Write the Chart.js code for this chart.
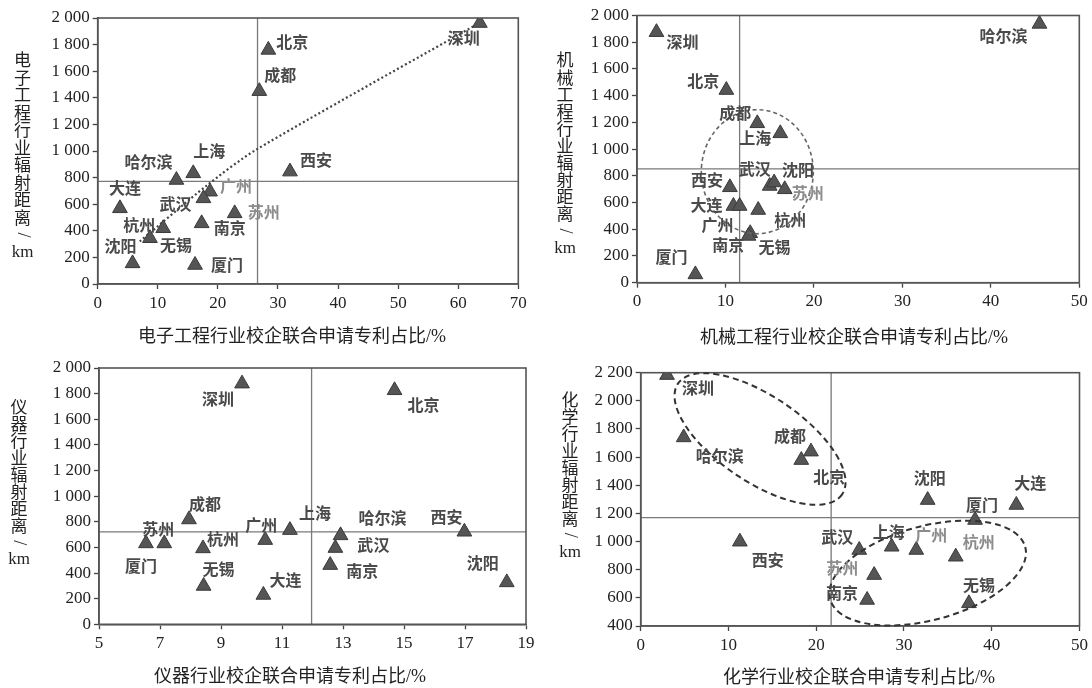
<!DOCTYPE html>
<html>
<head>
<meta charset="utf-8">
<script src="https://cdn.jsdelivr.net/npm/chart.js@4.4.1/dist/chart.umd.min.js"></script>
<style>
    html, body { margin: 0; padding: 0; background: #fff; }
    body { width: 1092px; height: 688px; position: relative; overflow: hidden; }
    canvas { position: absolute; }
</style>
</head>
<body>
<canvas id="chartEE" width="546" height="350" style="left:0;top:0"></canvas>
<canvas id="chartME" width="546" height="350" style="left:546px;top:0"></canvas>
<canvas id="chartIN" width="546" height="338" style="left:0;top:350px"></canvas>
<canvas id="chartCH" width="546" height="338" style="left:546px;top:350px"></canvas>
<script>
// 电子工程
const eeCities = ['深圳', '北京', '成都', '西安', '上海', '哈尔滨', '广州', '武汉', '大连', '苏州', '南京', '杭州', '无锡', '沈阳', '厦门'];
const eeShare = [63.6, 28.4, 26.9, 32.0, 15.9, 13.1, 18.7, 17.6, 3.7, 22.8, 17.3, 10.9, 8.7, 5.8, 16.2];
const eeDist = [1962, 1760, 1450, 845, 832, 782, 694, 644, 569, 531, 456, 419, 344, 155, 143];
const eeTrendX = [7, 18, 26.2, 64];
const eeTrendY = [320, 735, 1005, 1975];
const eeMean = [26.6, 772];

// 机械工程
const meCities = ['哈尔滨', '深圳', '北京', '成都', '上海', '武汉', '沈阳', '苏州', '西安', '大连', '广州', '杭州', '南京', '无锡', '厦门'];
const meShare = [45.5, 2.2, 10.1, 13.6, 16.2, 15.0, 15.5, 16.7, 10.5, 10.9, 11.6, 13.7, 12.8, 12.6, 6.6];
const meDist = [1937, 1875, 1442, 1193, 1118, 724, 750, 699, 714, 574, 574, 544, 370, 350, 62];
const meMean = [11.6, 852];

// 仪器
const inCities = ['深圳', '北京', '成都', '上海', '西安', '哈尔滨', '武汉', '广州', '苏州', '厦门', '杭州', '南京', '无锡', '大连', '沈阳'];
const inShare = [9.69, 14.69, 7.95, 11.26, 16.98, 12.92, 12.75, 10.45, 7.14, 6.54, 8.41, 12.58, 8.43, 10.39, 18.37];
const inDist = [1878, 1826, 818, 735, 722, 694, 595, 657, 631, 631, 592, 462, 299, 229, 327];
const inMean = [11.97, 722];

// 化学
const chCities = ['深圳', '哈尔滨', '成都', '北京', '沈阳', '大连', '厦门', '西安', '武汉', '上海', '广州', '杭州', '苏州', '南京', '无锡'];
const chShare = [3.0, 4.9, 19.4, 18.3, 32.7, 42.8, 38.1, 11.3, 24.9, 28.6, 31.4, 35.9, 26.6, 25.8, 37.4];
const chDist = [2183, 1740, 1639, 1579, 1295, 1260, 1153, 999, 940, 963, 940, 892, 762, 585, 561];
const chMean = [21.7, 1170];

const SERIF = '"Liberation Serif", "Noto Sans CJK SC", serif';
const CJK = '"Noto Sans CJK SC", sans-serif';

// label offsets in px (dx, dy) for each city, same order as the city lists
const eeLabelPos = [[-16, 15], [24, -8], [21, -16], [26, -12], [16, -22], [-28, -18], [26, -6], [-28, 6], [5, -20], [29, -1], [28, 5], [-24, -3], [26, 7], [-12, -17], [32, 0]];
const meLabelPos = [[-36, 12], [26, 10], [-23, -9], [-22, -10], [-25, 5], [-15, -17], [24, -13], [23, 4], [-23, -7], [-27, -1], [-22, 19], [32, 10], [-22, 12], [26, 11], [-24, -17]];
const inLabelPos = [[-24, 15], [29, 15], [16, -16], [25, -17], [-18, -15], [42, -17], [38, -3], [-4, -15], [-6, -15], [-5, 22], [20, -10], [32, 6], [15, -17], [22, -15], [-24, -19]];
const chLabelPos = [[31, 13], [36, 18], [-21, -16], [28, 17], [2, -22], [14, -22], [7, -15], [28, 18], [-22, -13], [-3, -15], [15, -15], [23, -15], [-32, -7], [-25, -7], [10, -18]];

function fmtTick(v) {
    if (v >= 1000) return Math.floor(v / 1000) + ' ' + String(v % 1000).padStart(3, '0');
    return String(v);
}

function toPoints(xs, ys) {
    return xs.map((x, i) => ({ x: x, y: ys[i] }));
}

const panelPlugin = {
    id: 'panel',
    beforeDatasetsDraw(chart, args, o) {
        const ctx = chart.ctx, a = chart.chartArea;
        const px = chart.scales.x.getPixelForValue(o.mean[0]);
        const py = chart.scales.y.getPixelForValue(o.mean[1]);
        ctx.save();
        ctx.strokeStyle = '#7a7a7a';
        ctx.lineWidth = 1.3;
        ctx.beginPath();
        ctx.moveTo(px, a.top); ctx.lineTo(px, a.bottom);
        ctx.moveTo(a.left, py); ctx.lineTo(a.right, py);
        ctx.stroke();
        ctx.strokeStyle = '#555';
        ctx.lineWidth = 1.6;
        ctx.strokeRect(a.left, a.top, a.right - a.left, a.bottom - a.top);
        ctx.restore();
    },
    afterDatasetsDraw(chart, args, o) {
        const ctx = chart.ctx;
        const meta = chart.getDatasetMeta(0);
        ctx.save();
        // dashed rings
        (o.rings || []).forEach(r => {
            const cx = chart.scales.x.getPixelForValue(r.x);
            const cy = chart.scales.y.getPixelForValue(r.y);
            ctx.setLineDash(r.dash);
            ctx.lineWidth = r.width;
            ctx.strokeStyle = r.color;
            ctx.beginPath();
            ctx.ellipse(cx, cy, r.rx, r.ry, r.rot * Math.PI / 180, 0, Math.PI * 2);
            ctx.stroke();
        });
        ctx.setLineDash([]);
        // city names
        ctx.font = 'bold 16px ' + CJK;
        ctx.textAlign = 'center';
        ctx.textBaseline = 'middle';
        o.names.forEach((name, i) => {
            const p = meta.data[i];
            ctx.fillStyle = o.faded.includes(name) ? '#8c8c8c' : '#4a4a4a';
            ctx.fillText(name, p.x + o.labelPos[i][0], p.y + o.labelPos[i][1]);
        });
        ctx.restore();
    },
    afterDraw(chart, args, o) {
        const ctx = chart.ctx;
        ctx.save();
        ctx.fillStyle = '#222';
        ctx.textAlign = 'center';
        ctx.textBaseline = 'middle';
        ctx.font = '18px ' + SERIF;
        ctx.fillText(o.xTitle, o.xTitlePos[0], o.xTitlePos[1]);
        // vertical y title, one character per row
        ctx.font = '17px ' + CJK;
        const chars = o.yTitle.split('');
        chars.forEach((ch, i) => {
            const y = o.yTitlePos[1] + i * o.yTitlePos[2];
            if (ch === '/') {
                ctx.save();
                ctx.translate(o.yTitlePos[0], y);
                ctx.rotate(Math.PI / 2);
                ctx.font = '18px ' + SERIF;
                ctx.fillText('/', 0, 0);
                ctx.restore();
            } else {
                ctx.fillText(ch, o.yTitlePos[0], y);
            }
        });
        ctx.font = '17px ' + SERIF;
        ctx.fillText('km', o.yTitlePos[0], o.yTitlePos[1] + chars.length * o.yTitlePos[2]);
        ctx.restore();
    }
};

function makePanel(id, cfg) {
    const canvas = document.getElementById(id);
    const W = canvas.width, H = canvas.height;
    const axisStyle = {
        grid: { drawOnChartArea: false, drawTicks: true, tickLength: 5, tickColor: '#444', tickWidth: 1.3 },
        border: { display: true, color: '#555', width: 1.6 }
    };
    const datasets = [{
        data: toPoints(cfg.xs, cfg.ys),
        pointStyle: 'triangle',
        pointRadius: 8.5,
        pointHoverRadius: 8.5,
        backgroundColor: '#555',
        borderColor: '#3a3a3a',
        borderWidth: 1
    }];
    if (cfg.trendX) {
        datasets.push({
            type: 'line',
            data: toPoints(cfg.trendX, cfg.trendY),
            borderColor: '#444',
            borderWidth: 2.2,
            borderDash: [2, 2.5],
            pointRadius: 0,
            tension: 0.25,
            fill: false
        });
    }
    return new Chart(canvas.getContext('2d'), {
        type: 'scatter',
        data: { datasets: datasets },
        options: {
            responsive: false,
            animation: false,
            events: [],
            layout: { padding: { top: cfg.area[1], right: W - cfg.area[2], left: 0, bottom: 0 } },
            plugins: {
                legend: { display: false },
                tooltip: { enabled: false },
                panel: {
                    mean: cfg.mean,
                    names: cfg.names,
                    labelPos: cfg.labelPos,
                    faded: cfg.faded,
                    rings: cfg.rings,
                    xTitle: cfg.xTitle,
                    xTitlePos: cfg.xTitlePos,
                    yTitle: cfg.yTitle,
                    yTitlePos: cfg.yTitlePos
                }
            },
            scales: {
                x: Object.assign({
                    type: 'linear',
                    min: cfg.xRange[0], max: cfg.xRange[1],
                    ticks: { stepSize: cfg.xRange[2], color: '#222', padding: 4, font: { family: SERIF, size: 17 } },
                    afterFit(s) { s.height = H - cfg.area[3]; }
                }, axisStyle),
                y: Object.assign({
                    type: 'linear',
                    min: cfg.yRange[0], max: cfg.yRange[1],
                    ticks: { stepSize: cfg.yRange[2], color: '#222', padding: 3, font: { family: SERIF, size: 17 }, callback: fmtTick },
                    afterFit(s) { s.width = cfg.area[0]; }
                }, axisStyle)
            }
        },
        plugins: [panelPlugin]
    });
}

makePanel('chartEE', {
    xs: eeShare, ys: eeDist, names: eeCities, labelPos: eeLabelPos, mean: eeMean,
    trendX: eeTrendX, trendY: eeTrendY,
    faded: ['广州', '苏州'],
    xRange: [0, 70, 10], yRange: [0, 2000, 200],
    area: [97.7, 18, 518.3, 284],
    xTitle: '电子工程行业校企联合申请专利占比/%', xTitlePos: [292, 337],
    yTitle: '电子工程行业辐射距离/', yTitlePos: [22.6, 60, 17.5]
});

makePanel('chartME', {
    xs: meShare, ys: meDist, names: meCities, labelPos: meLabelPos, mean: meMean,
    faded: ['苏州'],
    rings: [{ x: 13.6, y: 831, rx: 56, ry: 62, rot: 0, dash: [4, 3], width: 1.6, color: '#666' }],
    xRange: [0, 50, 10], yRange: [0, 2000, 200],
    area: [91, 15.5, 533.3, 282.7],
    xTitle: '机械工程行业校企联合申请专利占比/%', xTitlePos: [308, 338],
    yTitle: '机械工程行业辐射距离/', yTitlePos: [19, 60, 17.1]
});

makePanel('chartIN', {
    xs: inShare, ys: inDist, names: inCities, labelPos: inLabelPos, mean: inMean,
    faded: [],
    xRange: [5, 19, 2], yRange: [0, 2000, 200],
    area: [99, 18, 526, 274.3],
    xTitle: '仪器行业校企联合申请专利占比/%', xTitlePos: [290, 327],
    yTitle: '仪器行业辐射距离/', yTitlePos: [19, 56.7, 17]
});

makePanel('chartCH', {
    xs: chShare, ys: chDist, names: chCities, labelPos: chLabelPos, mean: chMean,
    faded: ['广州', '杭州', '苏州'],
    rings: [
        { x: 13.6, y: 1729, rx: 99, ry: 43, rot: 34, dash: [6, 4], width: 2, color: '#333' },
        { x: 32.7, y: 776, rx: 101, ry: 47, rot: -15, dash: [6, 4], width: 2, color: '#333' }
    ],
    xRange: [0, 50, 10], yRange: [400, 2200, 200],
    area: [94.7, 22.7, 539, 276],
    xTitle: '化学行业校企联合申请专利占比/%', xTitlePos: [313, 328],
    yTitle: '化学行业辐射距离/', yTitlePos: [24, 50, 16.9]
});
</script>
</body>
</html>
